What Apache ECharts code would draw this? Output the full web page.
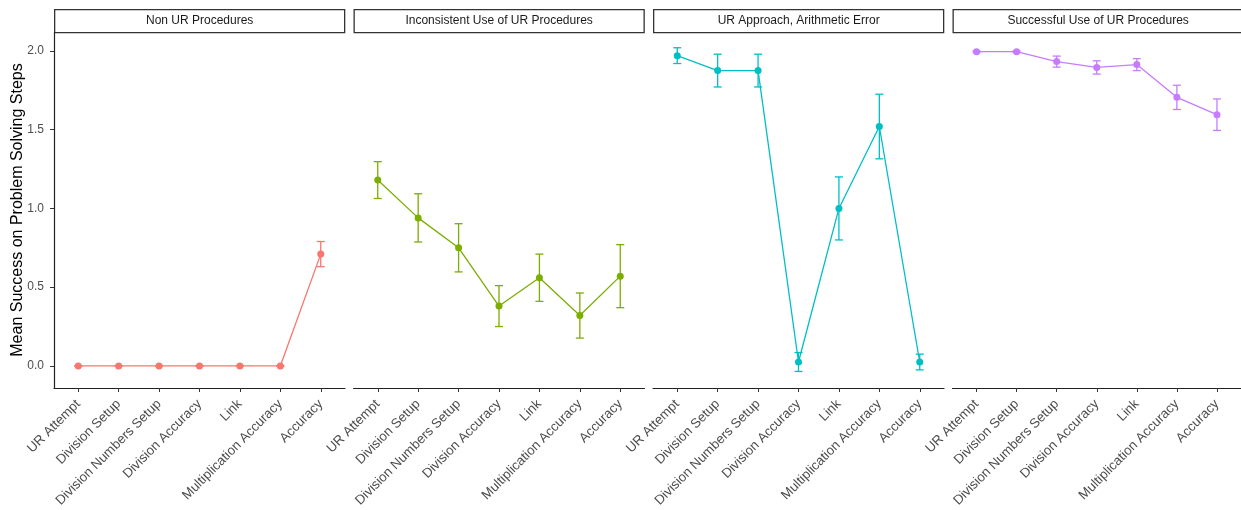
<!DOCTYPE html>
<html>
<head>
<meta charset="utf-8">
<script src="https://cdn.jsdelivr.net/npm/echarts@6/dist/echarts.min.js"></script>
<style>
  html, body { margin: 0; padding: 0; background: #fff; }
  #chart { width: 1241px; height: 510px; }
</style>
</head>
<body>
<div id="chart"></div>
<script>
// Problem-solving steps shown along each panel's x axis
const categories = ['UR Attempt', 'Division Setup', 'Division Numbers Setup', 'Division Accuracy', 'Link', 'Multiplication Accuracy', 'Accuracy'];

// Facet (strategy group) names
const panelNames = ['Non UR Procedures', 'Inconsistent Use of UR Procedures', 'UR Approach, Arithmetic Error', 'Successful Use of UR Procedures'];

// Mean success per step and its standard error, one pair per group
const meanNonUR = [0, 0, 0, 0, 0, 0, 0.71];
const seNonUR = [0, 0, 0, 0, 0, 0, 0.08];

const meanInconsistent = [1.18, 0.94, 0.75, 0.38, 0.56, 0.32, 0.57];
const seInconsistent = [0.117, 0.153, 0.153, 0.13, 0.15, 0.143, 0.2];

const meanArithError = [1.97, 1.875, 1.875, 0.025, 1.0, 1.52, 0.025];
const seArithError = [0.05, 0.104, 0.104, 0.06, 0.2, 0.205, 0.05];

const meanSuccessful = [1.995, 1.995, 1.932, 1.895, 1.913, 1.705, 1.595];
const seSuccessful = [0.005, 0.005, 0.035, 0.042, 0.038, 0.077, 0.1];

const yTicks = [0, 0.5, 1.0, 1.5, 2.0];

const groups = [
  { mean: meanNonUR, se: seNonUR, color: '#F8766D' },
  { mean: meanInconsistent, se: seInconsistent, color: '#7CAE00' },
  { mean: meanArithError, se: seArithError, color: '#00BFC4' },
  { mean: meanSuccessful, se: seSuccessful, color: '#C77CFF' }
];

// Facet layout
const LEFT = 54, PANEL_W = 291, GAP = 8.5, TOP = 32, BOTTOM = 122;
const STRIP_TOP = 9, STRIP_H = 23;
const FONT = '"Liberation Sans", Arial, Helvetica, sans-serif';
const positions = categories.map((c, i) => i + 1);

const chart = echarts.init(document.getElementById('chart'), null, { renderer: 'canvas' });

const grids = [], xAxes = [], yAxes = [], series = [], graphics = [];

groups.forEach((g, k) => {
  const left = LEFT + k * (PANEL_W + GAP);
  grids.push({ left: left, top: TOP, width: PANEL_W, bottom: BOTTOM, containLabel: false });

  xAxes.push({
    type: 'value', gridIndex: k, min: 0.4, max: 7.6,
    axisLine: { show: true, onZero: false, lineStyle: { color: '#222', width: 1.2 } },
    axisTick: { show: true, length: 4, customValues: positions, lineStyle: { color: '#333', width: 1 } },
    axisLabel: {
      show: true, customValues: positions, rotate: 45, margin: 14,
      fontFamily: FONT, fontSize: 13.3, color: '#4D4D4D',
      formatter: v => categories[Math.round(v) - 1] || ''
    },
    splitLine: { show: false }
  });

  const first = k === 0;
  yAxes.push({
    type: 'value', gridIndex: k, min: -0.14, max: 2.12,
    axisLine: { show: first, onZero: false, lineStyle: { color: '#222', width: 1.2 } },
    axisTick: { show: first, length: 4, customValues: yTicks, lineStyle: { color: '#333', width: 1 } },
    axisLabel: {
      show: first, customValues: yTicks, margin: 10,
      fontFamily: FONT, fontSize: 12, color: '#4D4D4D',
      formatter: v => v.toFixed(1)
    },
    splitLine: { show: false },
    name: first ? 'Mean Success on Problem Solving Steps' : '',
    nameLocation: 'middle', nameGap: 28.5, nameMoveOverlap: false,
    nameTextStyle: { fontFamily: FONT, fontSize: 16, color: '#000' }
  });

  // error bars: [x, low, high]
  series.push({
    type: 'custom', xAxisIndex: k, yAxisIndex: k, z: 2,
    data: g.mean.map((m, i) => [positions[i], m - g.se[i], m + g.se[i]]),
    renderItem: (params, api) => {
      const x = api.value(0);
      const lo = api.coord([x, api.value(1)]);
      const hi = api.coord([x, api.value(2)]);
      const half = 4;
      const style = { stroke: g.color, lineWidth: 1.3 };
      return {
        type: 'group',
        children: [
          { type: 'line', shape: { x1: lo[0], y1: lo[1], x2: hi[0], y2: hi[1] }, style },
          { type: 'line', shape: { x1: hi[0] - half, y1: hi[1], x2: hi[0] + half, y2: hi[1] }, style },
          { type: 'line', shape: { x1: lo[0] - half, y1: lo[1], x2: lo[0] + half, y2: lo[1] }, style }
        ]
      };
    },
    silent: true
  });

  series.push({
    type: 'line', xAxisIndex: k, yAxisIndex: k, z: 3,
    data: g.mean.map((m, i) => [positions[i], m]),
    symbol: 'circle', symbolSize: 7,
    itemStyle: { color: g.color },
    lineStyle: { color: g.color, width: 1.3 },
    silent: true
  });

  // facet strip
  graphics.push({
    type: 'group', left: left, top: STRIP_TOP,
    children: [
      { type: 'rect', shape: { x: 0.5, y: 0.5, width: PANEL_W - 1, height: STRIP_H }, style: { fill: '#fff', stroke: '#333', lineWidth: 1.3 } },
      { type: 'text', x: PANEL_W / 2, y: STRIP_H / 2 + 0.5,
        style: { text: panelNames[k], fill: '#1A1A1A', font: '12px ' + FONT, textAlign: 'center', textVerticalAlign: 'middle' } }
    ]
  });
});

chart.setOption({
  animation: false,
  backgroundColor: '#fff',
  grid: grids,
  xAxis: xAxes,
  yAxis: yAxes,
  series: series,
  graphic: graphics
});
</script>
</body>
</html>
